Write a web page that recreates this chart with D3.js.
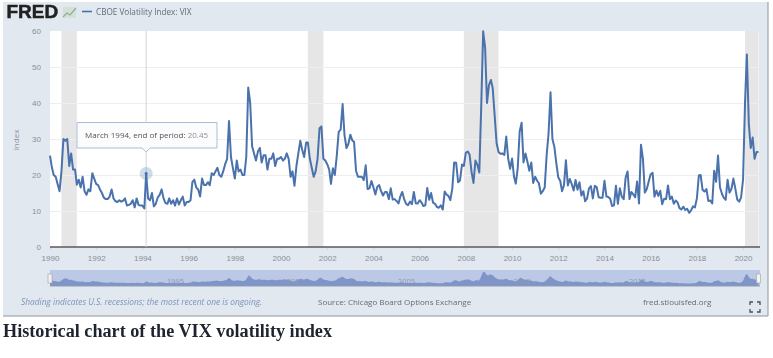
<!DOCTYPE html>
<html>
<head>
<meta charset="utf-8">
<script src="https://cdn.jsdelivr.net/npm/d3@7"></script>
<style>
  html, body { margin: 0; padding: 0; background: #fff; }
  svg { display: block; font-family: "Open Sans", sans-serif; filter: blur(0.45px); }
  .domain { display: none; }
  .yaxis text, .xaxis text { fill: #8a8f98; font-size: 8px; }
  .xaxis line { stroke: #ccd6eb; }
</style>
</head>
<body>
<svg id="chart" width="773" height="358"></svg>
<script>
// month end values, Jan 1990 on
const vix1990s = [
  25.4, 22, 20, 19.5, 17.5, 15.5, 21, 30, 29.5, 30, 22.5, 26,
  21.5, 21.5, 17.3, 18.7, 16.5, 19.5, 15.5, 14.5, 16, 15.5, 20.5, 19,
  17.5, 17.2, 16, 15, 13.7, 13.3, 13.3, 14, 16, 13.5, 12.7, 12.5,
  13, 12.6, 12.8, 13.5, 11.5, 11.7, 12, 13, 11, 13.5, 11.7, 11.5,
  11.5, 10.7, 20.45, 13.5, 13, 15, 11.3, 12, 13.8, 14.5, 16, 13.5,
  12.2, 12, 13.5, 12, 13, 11.5, 13.5, 11.8, 13, 14, 11.5, 12.5,
  12.5, 13, 18, 18.7, 16.5, 16, 14, 19, 17.2, 17.2, 18, 17.2,
  20.5, 20, 21, 22, 20, 19.5, 21, 23, 24.5, 35, 25, 22,
  19, 24, 21, 21.5, 20, 20, 25, 44.3, 40, 28, 26, 24,
  26.5, 27.5, 23.5, 25.5, 25.5, 21.5, 24.5, 24.5, 26, 22.5, 24.5, 24.5
];
const vix2000s = [
  25, 24, 24.5, 26, 24.5, 19.5, 21, 17, 22.5, 26, 29.5, 27,
  25, 29, 29, 24.5, 22, 19.5, 21, 24.5, 33, 33.5, 24.5, 24,
  23, 21.5, 17.5, 21.9, 20, 25.4, 32, 32.6, 39.7, 31.1, 27.5, 28.6,
  31.2, 29.6, 29.2, 21.2, 19.5, 19.5, 19.5, 18.6, 22.7, 16.1, 16.3, 18.3,
  16.6, 14.6, 16.7, 17.2, 15.5, 14.3, 15.3, 15.3, 13.3, 16.3, 13.2, 13.3,
  12.8, 12.1, 14, 15.3, 13.3, 12, 11.6, 12.6, 11.9, 15.3, 12.1, 12.1,
  13, 12.3, 11.4, 11.6, 16.4, 13.1, 15, 12.3, 12, 11.1, 10.9, 11.6,
  10.4, 15.4, 14.6, 14.2, 13, 16.2, 23.5, 23.4, 18, 18.5, 22.9, 22.5,
  26.2, 26.5, 25.6, 20.8, 17.8, 24, 22.9, 20.7, 39.4, 59.9, 55.3, 40,
  45, 46.4, 44.1, 36.5, 28.9, 26.4, 25.9, 26, 25.6, 30.7, 24.5, 21.7
];
const vix2010s = [
  24.6, 19.5, 17.6, 22, 32.1, 34.5, 23.5, 26, 23.7, 21.2, 23.5, 17.8,
  19.5, 18.4, 17.7, 14.8, 15.5, 16.5, 25.3, 31.6, 43, 30, 27.8, 23.4,
  19.4, 18.4, 15.5, 17.2, 24.1, 17.1, 18.9, 17.5, 15.7, 18.6, 15.9, 18,
  14.3, 15.5, 12.7, 13.5, 16.3, 16.9, 13.5, 17, 16.6, 13.8, 13.7, 13.7,
  18.4, 14, 13.9, 13.4, 11.4, 11.6, 17, 12, 16.3, 14, 13.3, 19.2,
  21, 13.3, 15.3, 14.6, 13.8, 18.2, 12.1, 28.4, 24.5, 15.1, 16.1, 18.2,
  20.2, 20.6, 14, 15.7, 14.2, 15.6, 11.9, 13.4, 13.3, 17.1, 13.3, 14,
  12, 12.9, 12.4, 10.8, 10.4, 11.2, 10.3, 10.6, 9.5, 10.2, 11.3, 11,
  13.5, 19.9, 20, 15.9, 15.4, 16.1, 12.8, 12.9, 12.1, 21.2, 18.1, 25.4,
  16.6, 14.8, 13.7, 13.1, 18.7, 15.1, 16.1, 19, 16.2, 13.2, 12.6, 13.8
];
const vix2020s = [18.8, 40.1, 53.5, 34.2, 27.5, 30.4, 24.5, 26.4, 26.4];

const recessions = [
  ['1990-07-01', '1991-03-01'],
  ['2001-03-01', '2001-11-01'],
  ['2007-12-01', '2009-06-01'],
  ['2020-02-01', '2020-09-01']
];
const yTicks = [0, 10, 20, 30, 40, 50, 60];
const navYears = [1995, 2000, 2005, 2010, 2015];

const values = [...vix1990s, ...vix2000s, ...vix2010s, ...vix2020s];
const data = values.map((v, i) => ({ date: new Date(1990, i, 1), value: v }));

const svg = d3.select('#chart');

// outer panel
svg.append('rect').attr('x', 3).attr('y', 2).attr('width', 765).attr('height', 314)
  .attr('fill', '#e1e8f0');
svg.append('path').attr('d', 'M3 316H768V2').attr('fill', 'none').attr('stroke', '#8f969c');

const xScale = d3.scaleTime()
  .domain([new Date(1990, 0, 1), new Date(2020, 8, 1)])
  .range([50, 758.5]);
const yScale = d3.scaleLinear().domain([0, 60]).range([247, 31]);

// plot background
svg.append('rect').attr('x', 50).attr('y', 31).attr('width', 709).attr('height', 216)
  .attr('fill', '#fff');

// recession shading
svg.append('g').selectAll('rect')
  .data(recessions)
  .join('rect')
  .attr('x', (d) => xScale(new Date(d[0] + 'T00:00')))
  .attr('width', (d) => xScale(new Date(d[1] + 'T00:00')) - xScale(new Date(d[0] + 'T00:00')))
  .attr('y', 31)
  .attr('height', 216)
  .attr('fill', '#e6e6e6');

// gridlines
svg.append('g')
  .attr('transform', 'translate(50, 0)')
  .call(d3.axisLeft(yScale).tickValues(yTicks.slice(1, -1)).tickFormat('').tickSize(-709))
  .call((g) => g.selectAll('line').attr('stroke', '#eeeeee'));

// y axis
svg.append('g')
  .attr('class', 'yaxis')
  .attr('transform', 'translate(50, 0)')
  .call(d3.axisLeft(yScale).tickValues(yTicks).tickSize(0).tickPadding(9));

// x axis
svg.append('g')
  .attr('class', 'xaxis')
  .attr('transform', 'translate(0, 247)')
  .call(d3.axisBottom(xScale).ticks(d3.timeYear.every(2)).tickFormat(d3.timeFormat('%Y')).tickSize(3).tickPadding(5));

svg.append('line').attr('x1', 50).attr('x2', 760).attr('y1', 247).attr('y2', 247)
  .attr('stroke', '#5a5a5a').attr('stroke-width', 1.6);

svg.append('text').attr('transform', 'translate(19, 140) rotate(-90)')
  .attr('text-anchor', 'middle').attr('font-size', 8).attr('fill', '#8a8f98').text('Index');

// hover crosshair, drawn under the line
const hovered = data.find((d) => d.value === 20.45);
const hx = xScale(hovered.date);
const hy = yScale(hovered.value);
svg.append('line').attr('x1', hx).attr('x2', hx).attr('y1', 31).attr('y2', 247)
  .attr('stroke', '#d3d6dc');

// series
const line = d3.line().x((d) => xScale(d.date)).y((d) => yScale(d.value));
svg.append('path').datum(data)
  .attr('fill', 'none').attr('stroke', '#4a72ac').attr('stroke-width', 2)
  .attr('stroke-linejoin', 'round').attr('d', line);

svg.append('circle').attr('cx', hx).attr('cy', hy).attr('r', 6.5)
  .attr('fill', '#4572a7').attr('fill-opacity', 0.25);
svg.append('circle').attr('cx', hx).attr('cy', hy).attr('r', 1.5).attr('fill', '#4572a7');

// tooltip
svg.append('path')
  .attr('d', `M77 122.5H217V148H${hx + 4}L${hx} 152L${hx - 4} 148H77Z`)
  .attr('fill', '#fcfcfd').attr('stroke', '#a9bdd9').attr('stroke-width', 1);
const tip = svg.append('text').attr('x', 85).attr('y', 138).attr('font-size', 8).attr('fill', '#50555c');
tip.append('tspan').text('March 1994, end of period: ');
tip.append('tspan').attr('fill', '#8a8f98').text(hovered.value.toFixed(2));

// navigator
const navY = d3.scaleLinear().domain([0, 60]).range([286, 271]);
svg.append('rect').attr('x', 50).attr('y', 270).attr('width', 710).attr('height', 16).attr('fill', '#bcc9e6');
svg.append('path').datum(data)
  .attr('fill', '#7f95c8')
  .attr('d', d3.area().curve(d3.curveBasis).x((d) => xScale(d.date)).y0(286).y1((d) => navY(d.value)));
svg.append('g').selectAll('text')
  .data(navYears)
  .join('text')
  .attr('x', (d) => xScale(new Date(d, 0, 1)) + 10)
  .attr('y', 284)
  .attr('text-anchor', 'middle')
  .attr('font-size', 7.5)
  .attr('fill', '#8c98b4')
  .text((d) => d);
svg.append('line').attr('x1', 50).attr('x2', 760).attr('y1', 286).attr('y2', 286).attr('stroke', '#8f9bb5');
svg.append('g').selectAll('rect')
  .data([xScale.domain()[0], xScale.domain()[1]])
  .join('rect')
  .attr('x', (d) => xScale(d) - 2)
  .attr('y', 274)
  .attr('width', 4)
  .attr('height', 9)
  .attr('fill', '#f2f2f2')
  .attr('stroke', '#aaa')
  .attr('stroke-width', 0.7);

// header
svg.append('text').attr('x', 6.5).attr('y', 18).attr('font-family', 'Liberation Sans')
  .attr('font-weight', 700).attr('font-size', 19).attr('stroke', '#222').attr('stroke-width', 0.5)
  .attr('fill', '#222').text('FRED');
svg.append('rect').attr('x', 63).attr('y', 7).attr('width', 13).attr('height', 11).attr('fill', '#d5e0d8');
svg.append('path').attr('d', 'M63 17L67 13L70 15L76 8').attr('fill', 'none')
  .attr('stroke', '#8fb08f').attr('stroke-width', 1.2);
svg.append('line').attr('x1', 82).attr('x2', 92).attr('y1', 11.5).attr('y2', 11.5)
  .attr('stroke', '#4572a7').attr('stroke-width', 1.6);
svg.append('text').attr('x', 96).attr('y', 15).attr('font-size', 8.2).attr('fill', '#666c75')
  .text('CBOE Volatility Index: VIX');

// footer
svg.append('text').attr('x', 21).attr('y', 305).attr('font-size', 8.4).attr('font-style', 'italic')
  .attr('fill', '#7c94b8').text('Shading indicates U.S. recessions; the most recent one is ongoing.');
svg.append('text').attr('x', 318).attr('y', 305).attr('font-size', 8).attr('fill', '#666c75')
  .text('Source: Chicago Board Options Exchange');
svg.append('text').attr('x', 643).attr('y', 305).attr('font-size', 8).attr('fill', '#666c75')
  .text('fred.stlouisfed.org');
svg.append('path')
  .attr('d', 'M750 305V302H753M757 302H760V305M760 309V312H757M753 312H750V309')
  .attr('fill', 'none').attr('stroke', '#4a4f55').attr('stroke-width', 1.3);

// caption
svg.append('text').attr('x', 3).attr('y', 337).attr('font-family', 'Liberation Serif')
  .attr('font-weight', 700).attr('font-size', 18.2).attr('fill', '#1d2430')
  .text('Historical chart of the VIX volatility index');
</script>
</body>
</html>
